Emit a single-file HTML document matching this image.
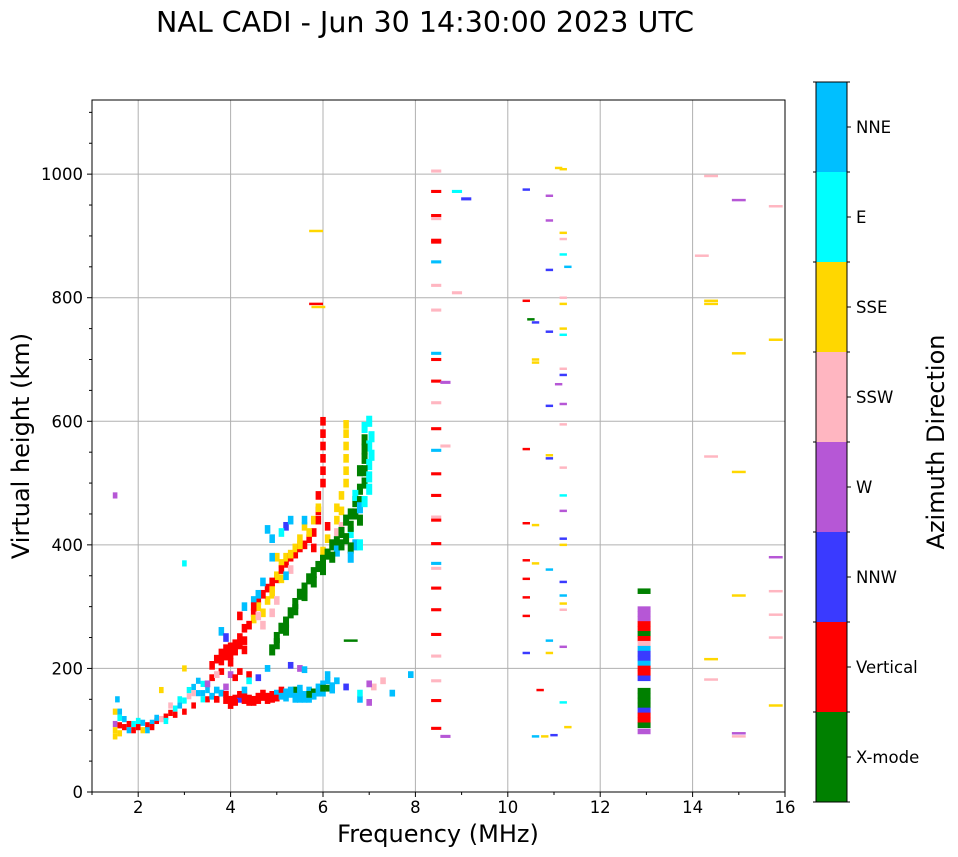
<!DOCTYPE html>
<html><head><meta charset="utf-8">
<style>
body{margin:0;background:#fff;}
svg{display:block;font-family:"DejaVu Sans","Liberation Sans",sans-serif;}
</style></head>
<body>
<svg id="chart" width="958" height="857" viewBox="0 0 958 857">
<text x="425" y="32" font-size="28.5" text-anchor="middle">NAL CADI - Jun 30 14:30:00 2023 UTC</text>
<g id="grid"></g>
<g id="marks"></g>
<rect x="92" y="100" width="693" height="692" fill="none" stroke="#000" stroke-width="1"/>
<g id="axes"></g>
<text x="438" y="842" font-size="24" text-anchor="middle">Frequency (MHz)</text>
<text transform="translate(29,446) rotate(-90)" font-size="24" text-anchor="middle">Virtual height (km)</text>
<g id="cbar"></g>
<text transform="translate(944,442) rotate(-90)" font-size="24" text-anchor="middle">Azimuth Direction</text>
</svg>
<script>
const dirLabels=["X-mode","Vertical","NNW","W","SSW","SSE","E","NNE"];
const dirColors=["#008000","#ff0000","#3a3aff","#b657d6","#ffb6c1","#ffd700","#00ffff","#00bfff"];
const xTicks=[2,4,6,8,10,12,14,16];
const yTicks=[0,200,400,600,800,1000];
const lowTrace=[[1.5,110,3],[1.5,130,5],[1.55,150,7],[1.6,95,5],[1.6,120,6],[1.7,105,1],[1.8,100,7],[1.9,110,6],[2.0,105,1],[2.1,100,5],[2.2,108,1],[2.3,112,7],[2.4,115,1],[2.5,118,4],[2.6,122,1],[2.7,128,1],[2.8,135,6],[2.9,140,7],[3.0,148,6],[3.1,155,4],[3.2,140,1],[3.3,160,7],[3.4,150,6],[3.5,165,7],[1.5,480,3],[3.0,370,6],[3.0,200,5],[2.5,165,5],[3.3,180,7],[1.6,108,1],[1.7,118,7],[2.0,115,6],[2.2,100,7],[1.5,100,5],[1.5,90,5],[1.6,130,7],[1.8,110,1],[1.9,100,1],[2.1,112,7],[2.3,105,1],[2.4,120,7],[2.6,115,6],[2.8,125,1],[2.9,150,6],[3.1,165,6],[3.2,170,7],[3.4,160,7],[3.5,150,1],[3.4,175,6],[3.0,130,1],[2.7,140,4],[3.2,160,4]];
const eLayer=[[3.6,155,7],[3.7,150,1],[3.8,160,7],[3.9,148,1],[4.0,150,1],[4.1,152,1],[4.2,150,2],[4.3,148,1],[4.4,152,1],[4.5,150,1],[4.6,155,1],[4.7,153,1],[4.8,155,1],[4.9,158,1],[5.0,160,7],[5.1,165,1],[5.2,162,7],[5.3,158,7],[5.4,165,0],[5.5,160,7],[5.6,158,7],[5.7,165,7],[5.8,162,0],[5.9,170,7],[6.0,175,7],[6.1,168,0],[6.2,172,7],[6.3,180,7],[6.5,170,2],[6.8,150,7],[7.0,145,3],[7.1,170,4],[7.3,180,4],[7.5,160,7],[7.9,190,7],[4.0,140,1],[4.5,145,1],[5.5,150,7],[5.7,150,7],[6.0,160,7],[3.6,185,1],[3.8,195,1],[4.0,190,3],[4.2,195,1],[4.4,190,1],[4.6,185,2],[3.5,175,3],[4.8,200,7],[5.3,205,2],[5.5,200,3],[5.6,198,7],[6.1,190,7],
[3.9,158,1],[4.1,145,1],[4.2,158,1],[4.3,155,1],[4.4,145,1],[4.6,148,1],[4.7,160,1],[4.8,148,1],[4.9,150,1],[5.0,152,1],[5.1,155,7],[5.2,152,7],[5.3,165,7],[5.4,155,7],[5.5,168,7],[5.6,150,7],[5.8,155,7],[5.9,160,7],[6.0,168,0],[6.1,180,7],[6.2,165,7],[5.4,150,7],[5.7,158,0],[3.7,165,7],[3.9,170,3],[4.3,165,7],[4.1,185,1],[3.7,190,4],[4.4,180,6],[7.0,175,3],[6.8,160,6]];
const oTrace=[[3.6,205,1],[3.7,215,1],[3.8,225,1],[3.9,220,1],[4.0,235,1],[4.1,240,1],[4.2,250,1],[4.3,265,1],[4.2,285,1],[4.3,300,7],[4.5,290,1],[4.6,310,1],[4.8,330,1],[5.0,345,1],[5.2,370,1],[5.4,385,1],[5.6,400,1],[5.8,420,1],[5.9,455,1],[5.9,480,1],[6.0,520,1],[6.0,560,1],[6.0,600,1],[6.1,430,1],[4.5,280,5],[4.6,300,5],[4.8,310,5],[4.9,330,5],[5.0,350,5],[5.1,370,5],[5.2,380,5],[5.4,395,5],[5.5,410,5],[5.6,430,5],[5.8,440,5],[5.9,460,5],[6.0,390,5],[6.2,400,5],[6.3,440,5],[6.4,480,5],[6.5,520,5],[6.5,560,5],[6.5,595,5],[5.3,360,4],[4.9,290,4],[4.7,270,4],[6.3,420,4],[4.8,425,7],[4.9,410,7],[5.2,430,2],[5.3,440,7],[4.5,310,7],[4.7,340,7],[3.8,260,7],[3.9,250,2],[5.6,440,7],[5.1,420,6],
[3.8,212,1],[3.9,232,1],[4.0,222,1],[4.1,228,1],[4.2,238,1],[4.3,245,1],[4.0,210,1],[4.3,230,1],[4.4,270,1],[4.5,300,1],[4.7,320,1],[4.9,340,1],[5.1,360,1],[5.3,380,1],[5.5,395,1],[5.7,410,1],[5.8,395,1],[6.0,500,1],[6.0,540,1],[6.0,580,1],[5.9,440,1],[4.7,290,5],[4.9,320,5],[5.1,345,5],[5.3,385,5],[5.5,400,5],[5.7,420,5],[6.1,410,5],[6.3,460,5],[6.5,500,5],[6.5,540,5],[6.5,580,5],[6.4,455,5],[5.0,380,5],[4.6,285,4],[5.0,310,4],[6.4,430,4],[4.6,320,7],[4.9,380,7],[5.2,350,7]];
const xTrace=[[4.9,230,0],[5.0,250,0],[5.1,265,0],[5.2,275,0],[5.3,290,0],[5.4,305,0],[5.5,320,0],[5.6,330,0],[5.7,345,0],[5.8,355,0],[5.9,365,0],[6.0,375,0],[6.1,385,0],[6.2,400,0],[6.3,405,0],[6.4,420,0],[6.5,440,0],[6.6,450,0],[6.7,470,0],[6.8,490,0],[6.8,520,0],[6.9,540,0],[6.9,570,0],[7.0,560,6],[7.0,600,6],[6.9,590,6],[7.0,530,6],[6.7,480,6],[6.6,420,6],[6.7,400,7],[6.3,390,7],
[5.0,240,0],[5.2,262,0],[5.4,295,0],[5.6,318,0],[5.8,340,0],[6.0,360,0],[6.2,380,0],[6.4,400,0],[6.6,430,0],[6.7,450,0],[6.8,470,0],[6.9,500,0],[6.9,520,0],[6.9,555,0],[6.8,440,0],[6.6,395,0],[6.5,410,0],[7.0,490,6],[7.0,510,6],[7.05,575,6],[7.05,545,6],[6.8,460,7],[6.6,380,7],[6.8,400,6],[6.9,470,6]];
const col84=[[8.45,1005,4],[8.45,972,1],[8.45,933,1],[8.45,928,4],[8.45,890,1],[8.45,893,1],[8.45,858,7],[8.45,820,4],[8.45,780,4],[8.45,710,7],[8.45,700,1],[8.45,665,1],[8.45,630,4],[8.45,588,1],[8.45,553,7],[8.45,515,1],[8.45,480,1],[8.45,445,4],[8.45,440,1],[8.45,402,1],[8.45,370,7],[8.45,362,4],[8.45,330,1],[8.45,295,1],[8.45,255,1],[8.45,220,4],[8.45,180,4],[8.45,148,1],[8.45,103,1],[8.65,90,3],[8.65,560,4],[8.65,663,3],[8.9,972,6],[9.1,960,2],[8.9,808,4]];
const col11=[[10.4,975,2],[10.4,795,1],[10.5,765,0],[10.6,760,2],[10.6,700,5],[10.6,695,5],[10.4,555,1],[10.4,435,1],[10.6,432,5],[10.4,375,1],[10.6,370,5],[10.4,345,1],[10.4,315,1],[10.4,285,1],[10.4,225,2],[10.7,165,1],[10.9,965,3],[10.9,925,3],[10.9,845,2],[10.9,745,2],[10.9,625,2],[10.9,545,5],[10.9,540,2],[10.9,360,7],[10.9,245,7],[10.9,225,5],[11.1,1010,5],[11.2,1008,5],[11.2,905,5],[11.2,895,4],[11.2,870,6],[11.3,850,7],[11.2,800,4],[11.2,790,5],[11.2,750,5],[11.2,740,6],[11.2,685,4],[11.2,675,2],[11.1,660,3],[11.2,628,3],[11.2,595,4],[11.2,525,4],[11.2,480,6],[11.2,455,3],[11.2,410,2],[11.2,400,5],[11.2,340,2],[11.2,318,7],[11.2,305,5],[11.2,295,4],[11.2,235,3],[11.2,145,6],[11.3,105,5],[10.6,90,7],[10.8,90,5],[11.0,92,2]];
const col13=[[12.95,325,0],[12.95,296,3],[12.95,288,3],[12.95,280,3],[12.95,272,1],[12.95,264,1],[12.95,256,0],[12.95,248,1],[12.95,240,4],[12.95,232,7],[12.95,224,2],[12.95,216,2],[12.95,208,7],[12.95,200,1],[12.95,192,1],[12.95,184,2],[12.95,164,0],[12.95,156,0],[12.95,148,0],[12.95,140,0],[12.95,132,2],[12.95,124,1],[12.95,116,1],[12.95,108,0],[12.95,98,3]];
const farCells=[[14.2,868,4],[14.4,997,4],[14.4,795,5],[14.4,790,5],[14.4,543,4],[14.4,215,5],[14.4,182,4],[15.0,958,3],[15.0,710,5],[15.0,518,5],[15.0,318,5],[15.0,95,3],[15.0,90,4],[15.8,948,4],[15.8,732,5],[15.8,380,3],[15.8,325,4],[15.8,287,4],[15.8,250,4],[15.8,140,5],[5.85,908,5],[5.85,790,1],[5.9,785,5],[6.6,245,0]];

const NS="http://www.w3.org/2000/svg";
const X0=92,X1=785,Y0=792,Y1=100,FMIN=1,FMAX=16,HMIN=0,HMAX=1120;
function xs(f){return X0+(f-FMIN)/(FMAX-FMIN)*(X1-X0);}
function ys(h){return Y0-(h-HMIN)/(HMAX-HMIN)*(Y0-Y1);}
function mk(tag,attrs,parent){const e=document.createElementNS(NS,tag);for(const k in attrs)e.setAttribute(k,attrs[k]);parent.appendChild(e);return e;}
const grid=document.getElementById('grid'),marks=document.getElementById('marks'),axes=document.getElementById('axes'),cbar=document.getElementById('cbar');
xTicks.forEach(t=>{
  const l=mk('line',{x1:xs(t),x2:xs(t),y1:Y1,y2:Y0,stroke:'#b0b0b0','stroke-width':1},grid);
  
  
  const tk=mk('line',{x1:xs(t),x2:xs(t),y1:Y0,y2:Y0+5,stroke:'#000'},axes);
  
  
  const tx=mk('text',{x:xs(t),y:Y0+21,'font-size':16.5,'text-anchor':'middle'},axes);
  tx.textContent=t;
  
  
});
yTicks.forEach(t=>{
  const l=mk('line',{x1:X0,x2:X1,y1:ys(t),y2:ys(t),stroke:'#b0b0b0','stroke-width':1},grid);
  
  
  const tk=mk('line',{x1:X0-5,x2:X0,y1:ys(t),y2:ys(t),stroke:'#000'},axes);
  
  
  const tx=mk('text',{x:X0-9,y:ys(t)+6,'font-size':16.5,'text-anchor':'end'},axes);
  tx.textContent=t;
  
  
});
for(let h=50;h<HMAX;h+=50){if(h%200===0)continue;
  const m=mk('line',{x1:X0-3,x2:X0,y1:ys(h),y2:ys(h),stroke:'#000'},axes);
  
  
}
for(let f=1;f<=15;f+=2){
  const m=mk('line',{x1:xs(f),x2:xs(f),y1:Y0,y2:Y0+3,stroke:'#000'},axes);
  
  
}
function drawGroup(arr,wMHz,hKm,name){
  arr.forEach(d=>{
    const x=xs(d[0]-wMHz/2),w=xs(d[0]+wMHz/2)-x,y=ys(d[1]+hKm/2),hh=ys(d[1]-hKm/2)-y;
    const r=mk('rect',{x:x,y:y,width:w,height:hh,fill:dirColors[d[2]]},marks);
    
    
  });
}
drawGroup(lowTrace,0.1,10,'low-trace-cell');
drawGroup(eLayer,0.12,11,'e-layer-cell');
drawGroup(oTrace,0.12,14,'o-trace-cell');
drawGroup(xTrace,0.13,18,'x-trace-cell');
drawGroup(col84,0.22,5,'column-8mhz-cell');
drawGroup(col11,0.16,4,'column-11mhz-cell');
drawGroup(col13,0.28,9,'column-13mhz-cell');
drawGroup(farCells,0.3,4,'high-freq-cell');
const CBX=816,CBW=31,CBT=82,CBB=802,bh=(CBB-CBT)/dirLabels.length;
dirLabels.forEach((lab,i)=>{
  const y=CBB-(i+1)*bh;
  const r=mk('rect',{x:CBX,y:y,width:CBW,height:bh,fill:dirColors[i]},cbar);
  
  
  const t=mk('text',{x:856,y:y+bh/2+6,'font-size':16.5},cbar);
  t.textContent=lab;
  
  
  const tk=mk('line',{x1:CBX+CBW,x2:CBX+CBW+4,y1:y+bh/2,y2:y+bh/2,stroke:'#000'},cbar);
  
  
});
for(let i=0;i<=dirLabels.length;i++){
  const y=CBB-i*bh;
  const a=mk('line',{x1:CBX-3,x2:CBX,y1:y,y2:y,stroke:'#000'},cbar);
  
  
  const b=mk('line',{x1:CBX+CBW,x2:CBX+CBW+3,y1:y,y2:y,stroke:'#000'},cbar);
  
  
}
const fr=mk('rect',{x:CBX,y:CBT,width:CBW,height:CBB-CBT,fill:'none',stroke:'#000'},cbar);


</script>
</body></html>
